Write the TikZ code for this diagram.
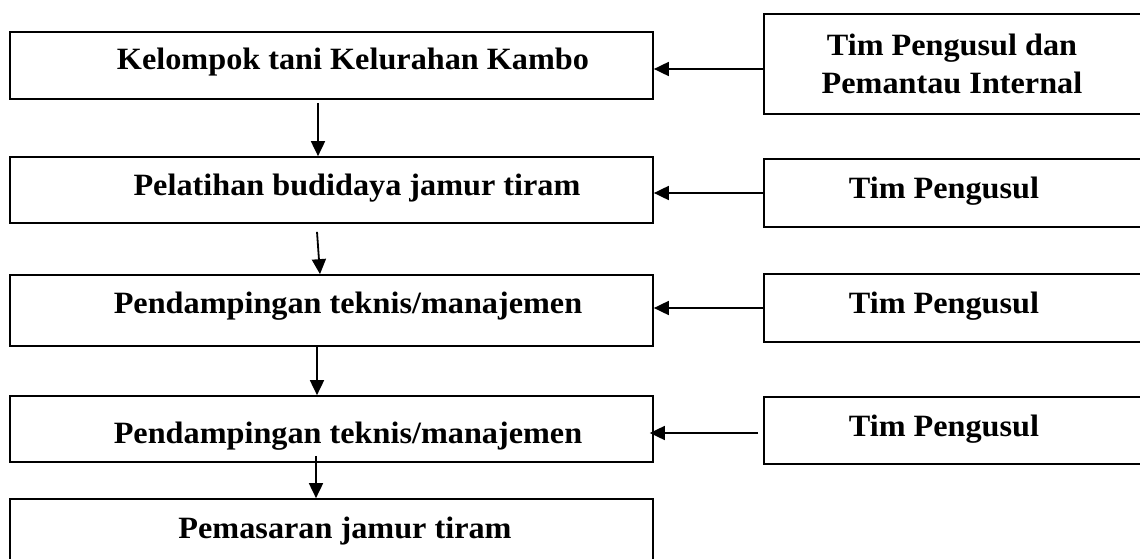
\documentclass[tikz,border=0pt]{standalone}
\usepackage{fontspec}
\setmainfont[FakeStretch=1.04]{Liberation Serif}
\usepackage{tikz}
\usetikzlibrary{calc,arrows.meta}

\begin{document}
\begin{tikzpicture}[x=1pt,y=-1pt]
                \tikzstyle{box}=[draw=black,line width=1.7pt,inner sep=0pt]
                \tikzstyle{lbl}=[inner sep=0pt,font=\fontsize{31}{38}\selectfont\bfseries,align=center]
                \tikzstyle{arr}=[black,line width=1.8pt,-{Triangle[length=15pt,width=14pt]}]
                \useasboundingbox (0,0) rectangle (1140,559);
                % left column
                \node [box,minimum width=643pt,minimum height=67pt] (k1) at (331.5,65.5) {};
                \node [box,minimum width=643pt,minimum height=66pt] (k2) at (331.5,190) {};
                \node [box,minimum width=643pt,minimum height=71pt] (k3) at (331.5,310.5) {};
                \node [box,minimum width=643pt,minimum height=66pt] (k4) at (331.5,429) {};
                \node [box,minimum width=643pt,minimum height=81pt] (k5) at (331.5,539.5) {};
                \node [lbl,anchor=base] at (353,70) {Kelompok tani Kelurahan Kambo};
                \node [lbl,anchor=base] at (357,195) {Pelatihan budidaya jamur tiram};
                \node [lbl,anchor=base] at (348,313) {Pendampingan teknis/manajemen};
                \node [lbl,anchor=base] at (348,443) {Pendampingan teknis/manajemen};
                \node [lbl,anchor=base] at (345,538) {Pemasaran jamur tiram};
                % right column
                \node [box,minimum width=396pt,minimum height=100pt] (t1) at (962,64) {};
                \node [box,minimum width=396pt,minimum height=68pt] (t2) at (962,193) {};
                \node [box,minimum width=396pt,minimum height=68pt] (t3) at (962,308) {};
                \node [box,minimum width=396pt,minimum height=67pt] (t4) at (962,430.5) {};
                \node [lbl] at (952,64) {Tim Pengusul dan\\Pemantau Internal};
                \node [lbl,anchor=base] at (944,198) {Tim Pengusul};
                \node [lbl,anchor=base] at (944,313) {Tim Pengusul};
                \node [lbl,anchor=base] at (944,436) {Tim Pengusul};
                % arrows
                \draw [arr] ([yshift=-5pt]t1.west) -- ([yshift=-5pt]t1.west -| k1.east);
                \draw [arr] (t2.west) -- (t2.west -| k2.east);
                \draw [arr] (t3.west) -- (t3.west -| k3.east);
                \draw [arr,shorten >=-4pt] ([xshift=-5pt,yshift=-2.5pt]t4.west) -- ([yshift=-2.5pt]t4.west -| k4.east);
                \coordinate (ax) at (318,0);
                \draw [arr] ([yshift=-3pt]k1.south -| ax) -- (k2.north -| ax);
                \draw [arr] ([xshift=-1pt,yshift=-8pt]k2.south -| ax) -- ([xshift=2pt]k3.north -| ax);
                \draw [arr] ([xshift=-1pt]k3.south -| ax) -- ([xshift=-1pt]k4.north -| ax);
                \draw [arr] ([xshift=-2pt,yshift=7pt]k4.south -| ax) -- ([xshift=-2pt]k5.north -| ax);
\end{tikzpicture}
\end{document}
